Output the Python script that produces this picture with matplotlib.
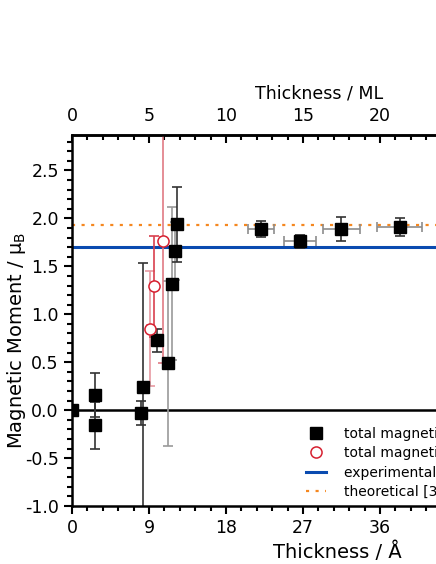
import matplotlib
matplotlib.use("Agg")
import matplotlib.pyplot as plt
from matplotlib.ticker import MultipleLocator

plt.rcParams['font.family'] = ['DejaVu Sans']

# black squares: total magnetic moment (dark error bars)
sq_x = [0.0, 2.7, 2.7, 8.1, 8.25, 9.9, 12.25]
sq_y = [0.0, 0.16, -0.16, -0.03, 0.24, 0.73, 1.94]
sq_yerr = [0.0, 0.23, 0.24, 0.13, 1.30, 0.12, 0.39]
sq_xerr = [0.0, 0.0, 0.0, 0.3, 0.3, 0.3, 0.3]

# black squares with grey error bars
gsq_x = [11.2, 11.65, 12.05]
gsq_y = [0.49, 1.32, 1.66]
gsq_yerr = [0.86, 0.80, 0.30]
gsq_xerr = [0.3, 0.3, 0.3]

# thicker films
thick_x = [22.1, 26.6, 31.5, 38.3]
thick_y = [1.89, 1.76, 1.89, 1.91]
thick_xerr = [1.5, 1.87, 2.2, 2.67]
thick_yerr = [0.085, 0.07, 0.13, 0.09]

# red circles: second data set
circ_x = [9.12, 9.6, 10.6]
circ_y = [0.85, 1.29, 1.76]
circ_yerr = [0.60, 0.53, 1.27]
circ_xerr = [0.3, 0.3, 0.3]
circ_ecol = ['#e89aa2', '#d9404e', '#e07a84']

exp_value = 1.70
theo_value = 1.93
ML = 1.8  # Angstrom per monolayer

labels = ['total magnetic moment', 'total magnetic moment',
          'experimental bulk value', 'theoretical [30]']

fig = plt.figure(figsize=(4.36, 5.64), dpi=100)
ax = fig.add_axes([0.1651, 0.1028, 0.883, 0.6578])

ax.axhline(0, color='black', lw=1.8, zorder=1)
l_exp = ax.axhline(exp_value, color='#0a4bb0', lw=2.2, zorder=2)
l_theo = ax.axhline(theo_value, color='#f5871f', lw=1.6, ls=(0, (1.4, 2.9)), zorder=2)

ek = dict(capsize=3.6, elinewidth=1.2, capthick=1.2, ls='none')
ax.errorbar(gsq_x, gsq_y, yerr=gsq_yerr, xerr=gsq_xerr, ecolor='#9a9a9a', marker='none', **ek)
ax.errorbar(sq_x, sq_y, yerr=sq_yerr, xerr=sq_xerr, ecolor='#333333', marker='none', **ek)
ax.errorbar(thick_x, thick_y, xerr=thick_xerr, ecolor='#8c8c8c', marker='none', **ek)
ax.errorbar(thick_x, thick_y, yerr=thick_yerr, ecolor='#333333', marker='none', **ek)
for x, y, xe, ye, c in zip(circ_x, circ_y, circ_xerr, circ_yerr, circ_ecol):
    ax.errorbar(x, y, yerr=ye, xerr=xe, ecolor=c, marker='none', **ek)

h_sq, = ax.plot(sq_x + gsq_x + thick_x, sq_y + gsq_y + thick_y, 's', color='black',
                ms=8, ls='none', zorder=5)
h_c, = ax.plot(circ_x, circ_y, 'o', mfc='white', mec='#d62030', mew=1.1, ms=8,
               ls='none', zorder=5)

ax.set_xlim(0, 45)
ax.set_ylim(-1.0, 2.87)
ax.xaxis.set_major_locator(MultipleLocator(9))
ax.xaxis.set_minor_locator(MultipleLocator(1.8))
ax.yaxis.set_major_locator(MultipleLocator(0.5))
ax.yaxis.set_minor_locator(MultipleLocator(0.1))
ax.yaxis.set_major_formatter(plt.FormatStrFormatter('%.1f'))
ax.tick_params(which='both', direction='out', width=1.5, labelsize=12.5, top=False)
ax.tick_params(which='major', length=6)
ax.tick_params(which='minor', length=3.5)
for s in ax.spines.values():
    s.set_linewidth(1.8)

top = ax.secondary_xaxis('top', functions=(lambda x: x / ML, lambda m: m * ML))
top.xaxis.set_major_locator(MultipleLocator(5))
top.xaxis.set_minor_locator(MultipleLocator(1))
top.tick_params(which='both', direction='in', width=1.5, labelsize=12.5, pad=7)
top.tick_params(which='major', length=6)
top.tick_params(which='minor', length=3.5)
top.spines['top'].set_linewidth(1.8)
fig.text(319 / 436, 1 - 93 / 564, 'Thickness / ML', fontsize=12.5, ha='center', va='center')

ax.set_xlabel('Thickness / Å', fontsize=14)
ax.xaxis.set_label_coords(0.69, -0.095)
ax.set_ylabel(r'Magnetic Moment / $\mathregular{\mu_B}$', fontsize=14)
ax.yaxis.set_label_coords(-0.114, 0.447)

ax.legend([h_sq, h_c, l_exp, l_theo], labels, loc='upper left', frameon=False,
          fontsize=10, handlelength=1.4, handletextpad=1.3, labelspacing=0.38,
          bbox_to_anchor=(0.674, 0.265), bbox_transform=fig.transFigure)

fig.savefig('out.png', dpi=100)
